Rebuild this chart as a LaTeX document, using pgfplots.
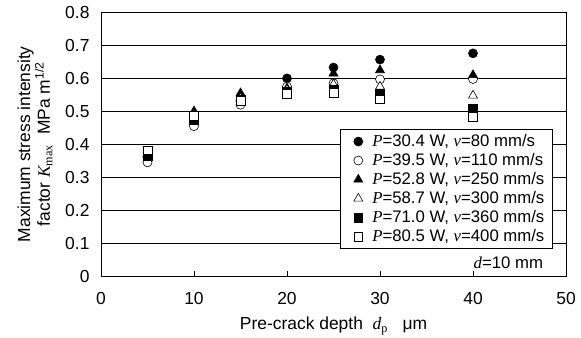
\documentclass[border=0pt]{standalone}
\usepackage{fontspec}
\setmainfont{Liberation Sans}
\newfontfamily\tnr{Liberation Serif}
\usepackage{pgfplots}
\pgfplotsset{compat=1.18}
\newcommand{\iv}[1]{{\tnr\itshape #1}}
\pgfplotsset{myleg/.style={legend image code/.code={\path[draw=none,fill=none] (0bp,0bp) -- (24bp,0bp); \draw[##1] plot coordinates {(12bp,0bp)};}}}
\begin{document}
\begin{tikzpicture}
\begin{axis}[
  at={(0,0)}, anchor=south west,
  scale only axis, width=465bp, height=263.5bp,
  xmin=0, xmax=50, ymin=0, ymax=0.8,
  xtick={0,10,20,30,40,50},
  ytick={0,0.1,0.2,0.3,0.4,0.5,0.6,0.7,0.8},
  yticklabels={0,0.1,0.2,0.3,0.4,0.5,0.6,0.7,0.8},
  /pgf/number format/assume math mode=true,
  ymajorgrids, grid style={black, line width=0.6pt},
  axis line style={black, line width=0.8pt},
  tick align=inside, xtick pos=bottom,
  ytick style={draw=none},
  xtick style={black, line width=0.6pt},
  major tick length=5bp,
  tick label style={font=\fontsize{17.5}{19}\selectfont},
  xticklabel style={yshift=-13bp},
  yticklabel style={xshift=-8bp},
  xlabel={Pre-crack depth \ \iv{d}{\tnr\textsubscript{p}} \ \ μm},
  xlabel style={at={(axis description cs:0.5,0)}, anchor=center, yshift=-50bp, font=\fontsize{17.5}{19}\selectfont},
  ylabel={Maximum stress intensity\\factor \iv{K}{\tnr\textsubscript{max}} \ MPa m\textsuperscript{1/2}},
  ylabel style={at={(axis description cs:0,0.5)}, anchor=center, yshift=66bp, align=center, font=\fontsize{17.5}{17.5}\selectfont},
  clip=false,
  legend style={at={(axis cs:25.7,0.445)}, anchor=north west, draw=black, line width=0.6pt,
    font=\fontsize{16.8}{17.5}\selectfont, row sep=1.4bp, inner xsep=6bp, inner ysep=3bp,
    /tikz/every even column/.append style={column sep=0bp}},
  legend cell align=left,
]
\addplot[only marks, myleg, mark=*, mark size=4.5bp, draw=black, fill=black, line width=0.6pt] coordinates {
 (5,0.360) (10,0.470) (15,0.530) (20,0.600) (25,0.633) (30,0.657) (40,0.676)};
\addlegendentry{\iv{P}=30.4 W, \iv{v}=80 mm/s}
\addplot[only marks, myleg, mark=*, mark size=4.5bp, draw=black, fill=white, line width=0.6pt] coordinates {
 (5,0.345) (10,0.455) (15,0.520) (20,0.575) (25,0.585) (30,0.597) (40,0.598)};
\addlegendentry{\iv{P}=39.5 W, \iv{v}=110 mm/s}
\addplot[only marks, myleg, mark=triangle*, mark size=5.2bp, draw=black, fill=black, line width=0.6pt] coordinates {
 (5,0.370) (10,0.500) (15,0.555) (20,0.570) (25,0.615) (30,0.625) (40,0.610)};
\addlegendentry{\iv{P}=52.8 W, \iv{v}=250 mm/s}
\addplot[only marks, myleg, mark=triangle*, mark size=5.2bp, draw=black, fill=white, line width=0.6pt] coordinates {
 (5,0.370) (10,0.490) (15,0.540) (20,0.565) (25,0.582) (30,0.575) (40,0.548)};
\addlegendentry{\iv{P}=58.7 W, \iv{v}=300 mm/s}
\addplot[only marks, myleg, mark=square*, mark size=4.3bp, draw=black, fill=black, line width=0.6pt] coordinates {
 (5,0.365) (10,0.474) (15,0.535) (20,0.560) (25,0.565) (30,0.553) (40,0.509)};
\addlegendentry{\iv{P}=71.0 W, \iv{v}=360 mm/s}
\addplot[only marks, myleg, mark=square*, mark size=4.3bp, draw=black, fill=white, line width=0.6pt] coordinates {
 (5,0.382) (10,0.486) (15,0.532) (20,0.553) (25,0.556) (30,0.536) (40,0.483)};
\addlegendentry{\iv{P}=80.5 W, \iv{v}=400 mm/s}
\node[font=\fontsize{16.8}{17.5}\selectfont] at (axis cs:43.8,0.04) {\iv{d}=10 mm};
\end{axis}
\pgfresetboundingbox
\path[use as bounding box] (-101bp,-62bp) rectangle (480bp,276bp);
\end{tikzpicture}
\end{document}
